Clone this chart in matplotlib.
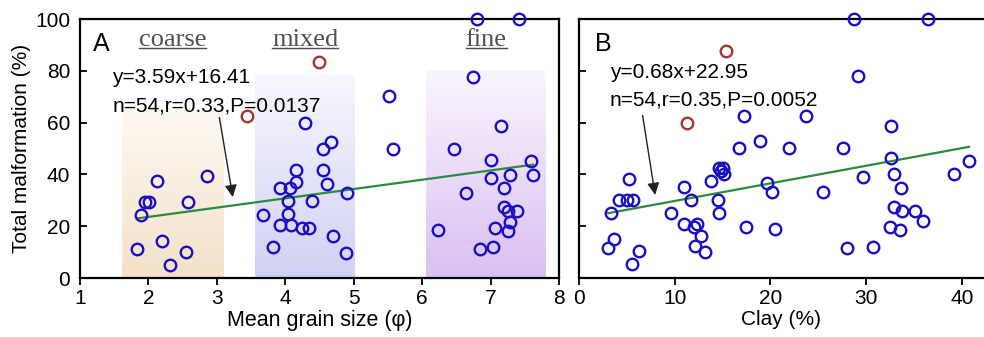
import numpy as np
import matplotlib
matplotlib.use('Agg')
import matplotlib.pyplot as plt
from matplotlib.colors import to_rgb
from matplotlib.lines import Line2D

plt.rcParams['font.family'] = ['Liberation Sans', 'DejaVu Sans']

# Panel A: mean grain size (phi) vs total malformation (%)
grain_x = [1.83, 1.89, 1.95, 2.01, 2.13, 2.20, 2.31, 2.55, 2.58, 2.85,
           3.67, 3.82, 3.92, 3.92, 4.04, 4.04, 4.07, 4.08, 4.16, 4.16, 4.25,
           4.34, 4.39, 4.55, 4.61, 4.70, 4.55, 4.67, 4.29, 4.89, 4.90,
           5.58, 5.52,
           6.47, 6.64, 6.23, 6.84, 7.01, 7.01, 7.04, 7.07, 7.19, 7.19, 7.25,
           7.28, 7.28, 7.26, 7.38, 7.59, 7.62, 6.75, 6.80, 7.42, 7.15]
grain_y = [11.1, 24.5, 29.5, 29.5, 37.6, 14.4, 5.0, 9.9, 29.5, 39.5,
           24.4, 12.0, 34.9, 20.5, 29.6, 24.6, 34.9, 20.5, 41.7, 37.0, 19.5,
           19.5, 29.6, 41.7, 36.4, 16.2, 49.7, 52.5, 59.7, 9.8, 33.0,
           49.8, 70.3,
           49.7, 33.0, 18.7, 11.1, 45.7, 38.5, 11.9, 19.3, 34.6, 27.5, 26.0,
           39.6, 21.8, 18.1, 26.0, 45.2, 39.7, 77.8, 100, 100, 58.7]
grain_out_x = [3.44, 4.49]
grain_out_y = [62.6, 83.3]
grain_fit = (3.59, 16.41)
grain_stats = ["y=3.59x+16.41", "n=54,r=0.33,P=0.0137"]

zones = ["coarse", "mixed", "fine"]
zone_lo = [1.61, 3.56, 6.06]
zone_hi = [3.09, 5.02, 7.81]
zone_top = [65, 78, 80]

# Panel B: clay (%) vs total malformation (%)
clay_x = [3.06, 3.31, 3.65, 4.20, 5.00, 5.60, 5.25, 5.50, 6.30,
          9.60, 10.96, 10.96, 11.66, 12.00, 12.35, 12.70, 12.11, 13.15, 13.75,
          14.47, 14.65, 14.65, 14.85, 15.00, 15.14,
          16.74, 17.43, 19.59, 20.11, 20.46, 21.95, 25.44, 27.53, 28.00, 29.68,
          30.72, 32.54, 32.91, 33.61, 32.91, 33.75, 32.46, 33.51, 35.14, 35.94,
          39.18, 40.74,
          28.70, 36.46, 29.16, 23.66, 32.54, 18.90, 17.26]
clay_y = [11.5, 25.0, 14.9, 30.0, 30.0, 30.0, 38.1, 5.3, 10.3,
          25.0, 35.2, 20.8, 30.0, 19.8, 20.8, 16.4, 12.2, 10.2, 37.5,
          30.0, 25.0, 42.3, 41.5, 42.6, 40.0,
          50.1, 19.8, 36.8, 33.1, 18.8, 50.1, 33.1, 50.1, 11.5, 38.9,
          12.1, 46.2, 40.0, 34.9, 27.5, 26.0, 19.6, 18.5, 26.0, 22.0,
          40.0, 45.3,
          100, 100, 78.0, 62.5, 58.8, 52.9, 62.5]
clay_out_x = [11.24, 15.34]
clay_out_y = [60.0, 87.8]
clay_fit = (0.68, 22.95)
clay_stats = ["y=0.68x+22.95", "n=54,r=0.35,P=0.0052"]

BLUE = '#1a0fc4'
RED = '#a83434'
GREEN = '#2b8a3e'


def shade(ax, x0, x1, ytop, c_bottom, c_top):
    t = np.linspace(0, 1, 100)[:, None, None]
    img = np.array(to_rgb(c_bottom)) * (1 - t) + np.array(to_rgb(c_top)) * t
    ax.imshow(img, extent=[x0, x1, 0, ytop], origin='lower', aspect='auto',
              interpolation='bilinear', zorder=0)


def scatter_panel(ax, x, y, ox, oy, fit):
    ax.plot(x, y, 'o', ms=8.3, mfc='none', mec=BLUE, mew=1.7, clip_on=False, zorder=4)
    ax.plot(ox, oy, 'o', ms=8.3, mfc='none', mec=RED, mew=1.7, clip_on=False, zorder=4)
    xs = np.array([min(x), max(x)])
    ax.plot(xs, fit[0] * xs + fit[1], color=GREEN, lw=1.6, zorder=3)


def style(ax):
    for s in ax.spines.values():
        s.set_linewidth(1.6)
    ax.tick_params(axis='y', direction='in', length=5, width=1.3, labelsize=15, pad=7)
    ax.tick_params(axis='x', direction='out', length=5, width=1.3, labelsize=15, pad=3)


fig = plt.figure(figsize=(9.84, 3.37), dpi=100)
axA = fig.add_axes([0.0813, 0.175, 0.4868, 0.7686])
axB = fig.add_axes([0.5884, 0.175, 0.4116, 0.7686])

# ---- panel A ----
zone_colors = [('#f3e1c8', '#fdf9f2'), ('#d1d1f5', '#f7f7fd'), ('#dac0f3', '#faf5fd')]
for lo, hi, top, (cb, ct) in zip(zone_lo, zone_hi, zone_top, zone_colors):
    shade(axA, lo, hi, top, cb, ct)

scatter_panel(axA, grain_x, grain_y, grain_out_x, grain_out_y, grain_fit)
axA.set_xlim(1, 8)
axA.set_ylim(0, 100)
axA.set_xticks(range(1, 9))
axA.set_yticks(range(0, 101, 20))
style(axA)
axA.set_xlabel("Mean grain size (φ)", fontsize=15.5, labelpad=1)
axA.set_ylabel("Total malformation (%)", fontsize=15, labelpad=3)

axA.text(0.026, 0.905, "A", transform=axA.transAxes, fontsize=18, ha='left', va='center')
zone_texts = []
for name, lo, hi in zip(zones, zone_lo, zone_hi):
    t = axA.text((lo + hi) / 2, 92, name, fontsize=19, color='#505050',
                 family='Liberation Serif', ha='center', va='center')
    zone_texts.append(t)
axA.text(1.47, 77.6, grain_stats[0], fontsize=15, ha='left', va='center')
axA.text(1.47, 66.4, grain_stats[1], fontsize=15, ha='left', va='center')
axA.annotate("", xy=(3.24, 30.2), xytext=(3.03, 63),
             arrowprops=dict(arrowstyle='-|>', color='#222222', lw=1.0, mutation_scale=18))

# ---- panel B ----
scatter_panel(axB, clay_x, clay_y, clay_out_x, clay_out_y, clay_fit)
axB.set_xlim(0, 42.3)
axB.set_ylim(0, 100)
axB.set_xticks(range(0, 41, 10))
axB.set_yticks(range(0, 101, 20))
axB.set_yticklabels([])
style(axB)
axB.spines['right'].set_visible(False)
axB.set_xlabel("Clay (%)", fontsize=15, labelpad=1)
axB.text(0.04, 0.905, "B", transform=axB.transAxes, fontsize=18, ha='left', va='center')
axB.text(3.24, 79.2, clay_stats[0], fontsize=15, ha='left', va='center')
axB.text(3.24, 68.7, clay_stats[1], fontsize=15, ha='left', va='center')
axB.annotate("", xy=(8.0, 31), xytext=(6.6, 63.8),
             arrowprops=dict(arrowstyle='-|>', color='#222222', lw=1.0, mutation_scale=18))

# underline the zone names
fig.canvas.draw()
r = fig.canvas.get_renderer()
W, H = fig.bbox.width, fig.bbox.height
for t in zone_texts:
    bb = t.get_window_extent(r)
    y = (bb.y0 + 3) / H
    fig.add_artist(Line2D([bb.x0 / W, bb.x1 / W], [y, y], color='#505050', lw=1.0))

fig.savefig("out.png", dpi=100)
